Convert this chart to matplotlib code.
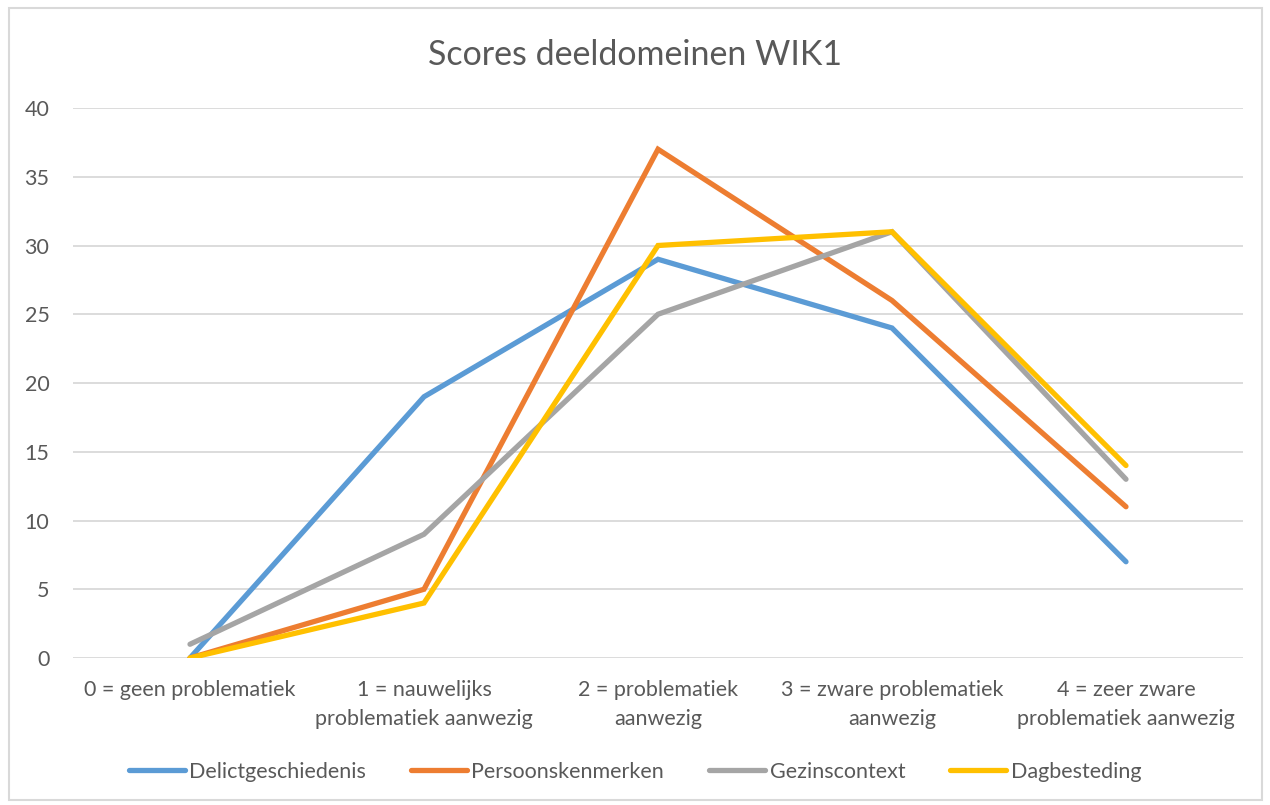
import matplotlib
matplotlib.use("Agg")
import matplotlib.pyplot as plt
from matplotlib.patches import Rectangle

categories = [
    "0 = geen problematiek",
    "1 = nauwelijks\nproblematiek aanwezig",
    "2 = problematiek\naanwezig",
    "3 = zware problematiek\naanwezig",
    "4 = zeer zware\nproblematiek aanwezig",
]
delict = [0, 19, 29, 24, 7]
persoon = [0, 5, 37, 26, 11]
gezin = [1, 9, 25, 31, 13]
dagbesteding = [0, 4, 30, 31, 14]

series = [
    ("Delictgeschiedenis", delict, "#5B9BD5"),
    ("Persoonskenmerken", persoon, "#ED7D31"),
    ("Gezinscontext", gezin, "#A5A5A5"),
    ("Dagbesteding", dagbesteding, "#FFC000"),
]

text_color = "#595959"
label_size = 15.5
plt.rcParams["font.family"] = ["Lato", "DejaVu Sans"]

fig = plt.figure(figsize=(12.7, 8.05), dpi=100)
ax = fig.add_axes([73 / 1270, 1 - 658 / 805, 1170 / 1270, 550 / 805])

x = list(range(len(categories)))
for name, values, color in series:
    ax.plot(x, values, color=color, linewidth=3.8, label=name,
            solid_capstyle="round", solid_joinstyle="miter")

ax.set_xlim(-0.5, len(categories) - 0.5)
ax.set_ylim(0, 40)
ax.set_yticks(range(0, 41, 5))
ax.set_xticks(x)
ax.set_xticklabels(categories, linespacing=1.55)
ax.grid(axis="y", color="#D9D9D9", linewidth=1.3)
ax.set_axisbelow(True)
for spine in ax.spines.values():
    spine.set_visible(False)
ax.tick_params(axis="both", length=0, labelsize=label_size, colors=text_color)
ax.tick_params(axis="y", pad=17)
ax.tick_params(axis="x", pad=16)

fig.text(0.5, 1 - 55 / 805, "Scores deeldomeinen WIK1", ha="center", va="center",
         fontsize=24.5, color=text_color)

fig.legend(loc="center", bbox_to_anchor=(0.5, 1 - 772 / 805), ncol=4,
           frameon=False, fontsize=label_size, labelcolor=text_color,
           handlelength=2.6, handletextpad=0.2, columnspacing=2.1)

# light frame around the whole chart
fig.patches.append(Rectangle((9 / 1270, 5 / 805), 1253 / 1270, 792 / 805,
                             transform=fig.transFigure, fill=False,
                             edgecolor="#D9D9D9", linewidth=1.5))

fig.savefig("out.png", dpi=100)
